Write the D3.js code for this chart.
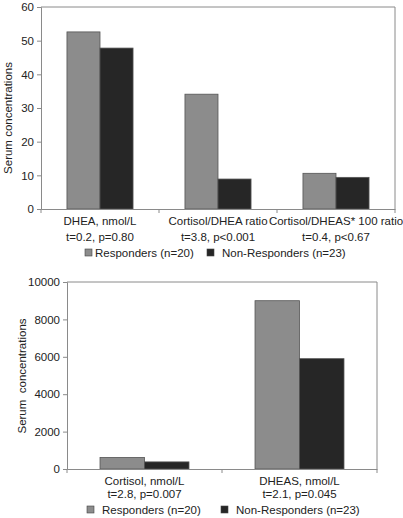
<!DOCTYPE html>
<html><head><meta charset="utf-8">
<script src="https://cdn.jsdelivr.net/npm/d3@7"></script>
<style>
body{margin:0;background:#fff;}
svg{display:block;font-family:"Liberation Sans",Arial,sans-serif;}
</style></head>
<body><svg id="c" width="403" height="518"></svg>
<script>
const series = ["Responders (n=20)", "Non-Responders (n=23)"];
const colors = ["#8c8c8c", "#262626"];

const topCats = [["DHEA, nmol/L", "t=0.2, p=0.80"], ["Cortisol/DHEA ratio", "t=3.8, p<0.001"], ["Cortisol/DHEAS* 100 ratio", "t=0.4, p<0.67"]];
const topResp = [52.6, 34.1, 10.6];
const topNon = [47.8, 8.9, 9.4];
const topTicks = [0, 10, 20, 30, 40, 50, 60];

const botCats = [["Cortisol, nmol/L", "t=2.8, p=0.007"], ["DHEAS, nmol/L", "t=2.1, p=0.045"]];
const botResp = [620, 9000];
const botNon = [380, 5900];
const botTicks = [0, 2000, 4000, 6000, 8000, 10000];

const yTitle = "Serum concentrations";
const yTitle2 = "Serum\u00a0 concentrations";

const svg = d3.select("#c");
const axisCol = "#8a8a8a";
const txtCol = "#222";

function panel(o) {
  const g = svg.append("g");
  const x = d3.scaleBand().domain(d3.range(o.cats.length)).range([o.l, o.r]);
  const bw = x.bandwidth();
  const off = bw * o.offFrac;
  const x1 = d3.scaleBand().domain([0, 1]).range([off, bw - off]);
  const y = d3.scaleLinear().domain([0, o.max]).range([o.b, o.t]);

  // frame
  g.append("line").attr("x1", o.l).attr("x2", o.r).attr("y1", o.t).attr("y2", o.t).attr("stroke", axisCol);
  g.append("line").attr("x1", o.r).attr("x2", o.r).attr("y1", o.t).attr("y2", o.b).attr("stroke", axisCol);

  // bars
  const vals = [o.resp, o.non];
  vals.forEach((arr, si) => {
    g.selectAll(null).data(arr).enter().append("rect")
      .attr("x", (d, i) => x(i) + x1(si))
      .attr("y", d => y(d))
      .attr("width", x1.bandwidth())
      .attr("height", d => o.b - y(d))
      .attr("fill", colors[si])
      .attr("stroke", "#555").attr("stroke-width", 0.8);
  });

  // y axis
  const ya = g.append("g").attr("transform", `translate(${o.l},0)`)
    .call(d3.axisLeft(y).tickValues(o.ticks).tickSize(4).tickPadding(3).tickFormat(d3.format("d")));
  ya.select(".domain").attr("stroke", axisCol);
  ya.selectAll(".tick line").attr("stroke", axisCol);
  ya.selectAll("text").attr("fill", txtCol).style("font-size", "11.5px").style("font-family", "Liberation Sans, Arial, sans-serif");

  // x axis
  const xa = g.append("g").attr("transform", `translate(0,${o.b})`)
    .call(d3.axisBottom(x).tickSize(0).tickFormat(""));
  xa.select(".domain").attr("stroke", axisCol);
  xa.selectAll(".tick").remove();
  const bounds = d3.range(o.cats.length + 1).map(i => o.l + i * bw);
  g.selectAll(null).data(bounds).enter().append("line")
    .attr("x1", d => d).attr("x2", d => d).attr("y1", o.b).attr("y2", o.b + 4).attr("stroke", axisCol);

  // category labels
  o.cats.forEach((c, i) => {
    c.forEach((line, j) => {
      g.append("text").attr("x", x(i) + bw / 2).attr("y", o.lab1 + j * o.labGap)
        .attr("text-anchor", "middle").attr("fill", txtCol).style("font-size", "11.5px").text(line);
    });
  });

  // y title
  g.append("text").attr("transform", `translate(${o.titleX},${o.titleY}) rotate(-90)`)
    .attr("text-anchor", "middle").attr("fill", txtCol).style("font-size", "11.5px").text(o.title);

  // legend
  o.leg.forEach((lg, si) => {
    g.append("rect").attr("x", lg[0]).attr("y", o.legY - 8).attr("width", 7).attr("height", 7)
      .attr("fill", colors[si]).attr("stroke", "#444").attr("stroke-width", 0.6);
    g.append("text").attr("x", lg[1]).attr("y", o.legY).attr("fill", txtCol)
      .style("font-size", "11.5px").text(series[si]);
  });
}

panel({cats: topCats, resp: topResp, non: topNon, ticks: topTicks, max: 60,
  l: 41, r: 395, t: 7, b: 209, offFrac: 0.22,
  lab1: 224.5, labGap: 16.5, titleX: 12, titleY: 118, title: yTitle,
  legY: 257, leg: [[85, 95], [207, 222]]});

panel({cats: botCats, resp: botResp, non: botNon, ticks: botTicks, max: 10000,
  l: 67, r: 377, t: 282, b: 469, offFrac: 0.213,
  lab1: 484.5, labGap: 13.5, titleX: 26, titleY: 376, title: yTitle2,
  legY: 514, leg: [[87, 102], [221, 236]]});
</script></body></html>
